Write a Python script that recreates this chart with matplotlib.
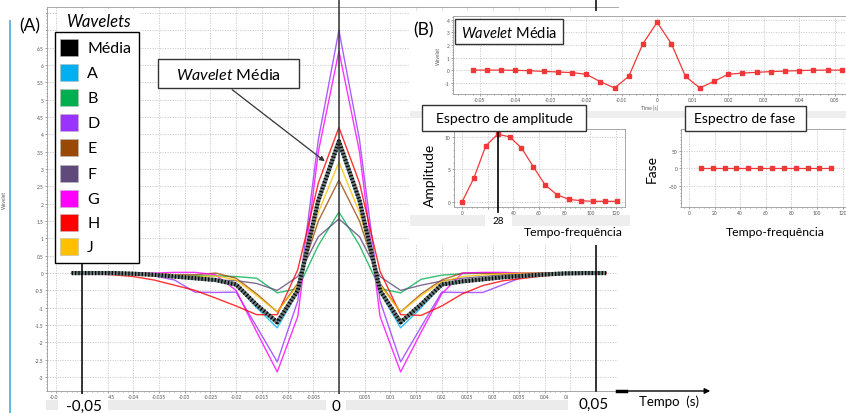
import matplotlib
matplotlib.use("Agg")
import matplotlib.pyplot as plt
from matplotlib.patches import Rectangle, FancyArrowPatch
from matplotlib.lines import Line2D
from matplotlib.ticker import MultipleLocator, FixedLocator, FuncFormatter

plt.rcParams['font.family'] = ['Lato', 'DejaVu Sans']
plt.rcParams['mathtext.fontset'] = 'custom'
plt.rcParams['mathtext.it'] = 'Lato:italic'
plt.rcParams['mathtext.rm'] = 'Lato'

# ---------------- data ----------------
time_s = [-0.052, -0.048, -0.044, -0.040, -0.036, -0.032, -0.028, -0.024, -0.020,
          -0.016, -0.012, -0.008, -0.004, 0.0, 0.004, 0.008, 0.012, 0.016, 0.020,
          0.024, 0.028, 0.032, 0.036, 0.040, 0.044, 0.048, 0.052]

media = [0, 0, 0, -0.02, -0.05, -0.10, -0.15, -0.20, -0.33, -0.92, -1.42, -0.50, 2.10,
         3.80, 2.10, -0.50, -1.42, -0.90, -0.33, -0.24, -0.18, -0.12, -0.08, -0.04, -0.01, 0, 0]
wav_a = [0, 0, 0, -0.02, -0.05, -0.10, -0.15, -0.22, -0.36, -1.00, -1.58, -0.55, 2.00,
         3.68, 2.00, -0.55, -1.58, -1.00, -0.36, -0.26, -0.18, -0.12, -0.08, -0.04, -0.01, 0, 0]
wav_b = [0, 0, 0, 0, -0.02, -0.05, -0.08, -0.08, -0.10, -0.15, -0.57, -0.45, 0.80,
         1.76, 0.80, -0.45, -0.57, -0.18, -0.06, -0.02, 0, 0, 0, 0, 0, 0, 0]
wav_d = [0, 0, 0, -0.02, -0.08, -0.20, -0.55, -0.56, -0.55, -1.55, -2.56, -0.80, 3.85,
         7.00, 3.85, -0.80, -2.56, -1.55, -0.55, -0.56, -0.56, -0.33, -0.10, -0.03, 0, 0, 0]
wav_e = [0, 0, 0, 0, -0.02, -0.05, -0.05, 0.00, -0.15, -0.60, -1.12, -0.30, 1.50,
         2.68, 1.50, -0.30, -1.12, -0.60, -0.20, 0.00, 0.00, -0.02, -0.02, 0, 0, 0, 0]
wav_f = [0, 0, 0, 0, -0.02, -0.05, -0.10, -0.20, -0.22, -0.30, -0.50, -0.10, 1.05,
         1.56, 1.05, -0.10, -0.50, -0.35, -0.23, -0.15, -0.10, -0.05, -0.02, 0, 0, 0, 0]
wav_g = [0, 0, 0, 0, 0, 0.02, 0.02, -0.05, -0.50, -1.70, -2.85, -1.25, 3.50,
         6.40, 3.50, -1.25, -2.85, -1.70, -0.60, 0.00, 0.02, 0.02, 0, 0, 0, 0, 0]
wav_h = [0, -0.02, -0.05, -0.10, -0.20, -0.35, -0.50, -0.72, -0.95, -1.20, -1.20, 0.10, 2.60,
         4.20, 2.60, 0.05, -1.20, -1.22, -0.95, -0.60, -0.36, -0.22, -0.15, -0.08, -0.03, 0, 0]
wav_j = [0, 0, 0, 0, -0.02, -0.05, -0.10, -0.08, -0.20, -0.65, -1.12, -0.35, 1.75,
         3.20, 1.75, -0.35, -1.12, -0.65, -0.25, -0.10, -0.05, -0.02, 0, 0, 0, 0, 0]

series_names = ["Média", "A", "B", "D", "E", "F", "G", "H", "J"]
series_colors = ["#000000", "#00B0F0", "#00B050", "#9933FF", "#984807",
                 "#604A7B", "#FF00FF", "#FF0000", "#FFC000"]
series_values = [media, wav_a, wav_b, wav_d, wav_e, wav_f, wav_g, wav_h, wav_j]

freq_hz = [0, 9.3, 18.5, 27.8, 37.0, 46.3, 55.6, 64.8, 74.1, 83.3, 92.6, 101.9, 111.1, 120.4]
amplitude = [0, 3.7, 8.6, 10.4, 10.0, 8.3, 5.4, 2.6, 1.1, 0.4, 0.2, 0.1, 0.1, 0.1]
phase_freq = [9.3, 18.5, 27.8, 37.0, 46.3, 55.6, 64.8, 74.1, 83.3, 92.6, 101.9, 111.1]
phase_deg = [0, 0, 0, 0, 0, 0, 0, 0, 0, 0, 0, 0]
peak_freq = 28

W, H = 846, 414
fig = plt.figure(figsize=(W / 100, H / 100), dpi=100)
fig.patch.set_facecolor("white")


def axes_px(l, t, r, b, z):
    a = fig.add_axes([l / W, 1 - b / H, (r - l) / W, (b - t) / H])
    a.set_zorder(z)
    return a


def rect_px(l, t, r, b, z, fc="white", ec="none", lw=1.0):
    fig.patches.append(Rectangle((l / W, 1 - b / H), (r - l) / W, (b - t) / H,
                                 transform=fig.transFigure, facecolor=fc,
                                 edgecolor=ec, linewidth=lw, zorder=z))


def text_px(x, y, s, z=10, **kw):
    kw.setdefault("ha", "center")
    kw.setdefault("va", "center")
    t = fig.text(x / W, 1 - y / H, s, **kw)
    t.set_zorder(z)
    return t


def line_px(x0, y0, x1, y1, z, color="black", lw=1.0):
    fig.lines.append(Line2D([x0 / W, x1 / W], [1 - y0 / H, 1 - y1 / H],
                            transform=fig.transFigure, color=color, lw=lw, zorder=z))


def style_small(a, fs=3.5):
    a.tick_params(which="both", labelsize=fs, colors="#555555", length=1.5, width=0.4, pad=1)
    a.tick_params(which="minor", length=1.0)
    for s in a.spines.values():
        s.set_color("#9a9a9a")
        s.set_linewidth(0.6)
    a.grid(True, which="major", color="#c8c8c8", lw=0.6, ls=(0, (1.5, 1.5)))
    a.set_axisbelow(True)


def main_xfmt(v, p):
    # the marks at -0.05, 0 and 0.05 s carry large labels of their own
    if min(abs(v + 0.05), abs(v), abs(v - 0.05)) < 1e-6:
        return ""
    return f"{v:.3f}".rstrip("0").rstrip(".")


# ---------------- main chart ----------------
ax = axes_px(47, 8, 618, 392, 0)
ax.set_xlim(-0.0568, 0.0543)
ax.set_ylim(-3.40, 7.67)
style_small(ax)
ax.spines["right"].set_visible(False)
ax.xaxis.set_major_locator(MultipleLocator(0.005))
ax.xaxis.set_minor_locator(MultipleLocator(0.001))
ax.yaxis.set_major_locator(MultipleLocator(0.5))
ax.yaxis.set_minor_locator(MultipleLocator(0.1))
ax.xaxis.set_major_formatter(FuncFormatter(main_xfmt))
ax.yaxis.set_major_formatter(FuncFormatter(lambda v, p: "" if v > 6.6 else (f"{v:g}" if abs(v) > 1e-9 else "0")))

for name, col, vals in list(zip(series_names, series_colors, series_values))[1:]:
    ax.plot(time_s, vals, color=col, lw=1.0, alpha=0.8, zorder=3)
# mean wavelet: grey band with black hatching
ax.plot(time_s, media, color="#6a7a7a", lw=3.0, zorder=4, solid_capstyle="butt")
ax.plot(time_s, media, color="black", lw=3.0, dashes=(0.3, 0.5), zorder=5)

# reference lines at -0.05, 0 and 0.05 s
ax.plot([-0.05, -0.05], [-3.75, 0.26], color="black", lw=1.1, clip_on=False, zorder=6)
ax.plot([0, 0], [-3.75, 7.9], color="#333333", lw=1.1, clip_on=False, zorder=6)
ax.plot([0.05, 0.05], [-3.40, 7.9], color="black", lw=1.1, clip_on=False, zorder=6)
ax.set_ylabel("Wavelet", fontsize=3.5, color="#555555", labelpad=20)

# left window edge and top-left cover
rect_px(0, 0, 46, 40, 1)
line_px(9.5, 22, 9.5, 414, 1.5, color="#5aaee0", lw=1.3)
text_px(30, 26, "(A)", z=12, fontsize=12.5)

# legend
rect_px(58, 11, 139, 33, 6)
text_px(99, 22, "Wavelets", z=12, fontsize=12, style="italic")
rect_px(55, 33, 139, 264, 6, fc="white", ec="black", lw=1.0)
row_y = [48, 73, 98, 123, 148, 174, 199, 223, 247]
for name, col, yy in zip(series_names, series_colors, row_y):
    rect_px(59.5, yy - 8.5, 78, yy + 8.5, 7, fc=col, ec="#bbbbbb", lw=0.4)
    text_px(87, yy + 1, name, z=12, fontsize=11.5, ha="left")

# label box with arrow on the mean wavelet
rect_px(158, 60, 299, 89, 6, fc="white", ec="#333333", lw=1.0)
text_px(228, 75, r"$\it{Wavelet}$ Média", z=12, fontsize=11.5)
fig.patches.append(FancyArrowPatch((230 / W, 1 - 89 / H), (327 / W, 1 - 164 / H),
                                   transform=fig.transFigure, arrowstyle="-|>",
                                   mutation_scale=7, color="#333333", lw=0.9, zorder=7))

# bottom strip with large time marks and the axis arrow
rect_px(46, 401, 620, 411, 1, fc="#ebebeb")
rect_px(58, 395, 108, 414, 2)
rect_px(326, 395, 346, 414, 2)
rect_px(568, 393, 620, 414, 2)
text_px(84, 407, "-0,05", z=12, fontsize=11)
text_px(336, 407, "0", z=12, fontsize=11)
text_px(594, 405, "0,05", z=12, fontsize=11)
line_px(617, 392, 626, 392, 8, lw=2.5)
fig.patches.append(FancyArrowPatch((622 / W, 1 - 392 / H), (713 / W, 1 - 392 / H),
                                   transform=fig.transFigure, arrowstyle="-|>",
                                   mutation_scale=8, color="black", lw=1.0, zorder=8))
text_px(669, 402, "Tempo  (s)", z=12, fontsize=9.5)

# ---------------- panel (B): mean wavelet ----------------
rect_px(410, 12, 846, 112, 2)
rect_px(410, 105, 632, 246, 2)
rect_px(630, 105, 846, 246, 2)
text_px(424, 30, "(B)", z=12, fontsize=12.5)

axb = axes_px(453, 17, 846, 95, 3)
axb.set_xlim(-0.0575, 0.0532)
axb.set_ylim(-1.9, 4.3)
style_small(axb)
axb.xaxis.set_major_locator(MultipleLocator(0.01))
axb.xaxis.set_minor_locator(MultipleLocator(0.002))
axb.yaxis.set_major_locator(MultipleLocator(1))
axb.yaxis.set_minor_locator(MultipleLocator(0.2))
axb.xaxis.set_major_formatter(FuncFormatter(lambda v, p: f"{v:.2f}" if abs(v) > 1e-9 else "0"))
axb.yaxis.set_major_formatter(FuncFormatter(lambda v, p: f"{v:g}" if abs(v) > 1e-9 else "0"))
axb.plot(time_s, media, color="#f03838", lw=0.9, marker="s", ms=2.2, zorder=4)
axb.set_xlabel("Time [s]", fontsize=3.5, color="#555555", labelpad=1.5)
axb.set_ylabel("Wavelet", fontsize=3.5, color="#555555", labelpad=3)
rect_px(455, 20, 563, 45, 6, fc="white", ec="#333333", lw=1.0)
text_px(509, 33, r"$\it{Wavelet}$ Média", z=12, fontsize=10.5)

# thin grey band under panel (B)
rect_px(410, 112, 846, 119, 2.5, fc="#eeeeee")

# ---------------- amplitude spectrum ----------------
axa = axes_px(454, 130, 625, 208, 3)
axa.set_xlim(-6.25, 127)
axa.set_ylim(-0.77, 11.2)
style_small(axa)
axa.xaxis.set_major_locator(MultipleLocator(20))
axa.xaxis.set_minor_locator(MultipleLocator(4))
axa.yaxis.set_major_locator(MultipleLocator(5))
axa.yaxis.set_minor_locator(MultipleLocator(1))
axa.xaxis.set_major_formatter(FuncFormatter(lambda v, p: "" if abs(v - 20) < 1e-6 else f"{v:g}"))
axa.plot(freq_hz, amplitude, color="#f03838", lw=0.9, marker="s", ms=2.2, zorder=4)
axa.plot([peak_freq, peak_freq], [-1.5, 11.2], color="black", lw=1.2, clip_on=False, zorder=5)
rect_px(410, 216, 630, 227, 2.5, fc="#eeeeee")
rect_px(485, 215, 512, 228, 2.6)
text_px(498, 221, f"{peak_freq}", z=12, fontsize=7)
text_px(430, 175, "Amplitude", z=12, fontsize=10, rotation=90)
text_px(573, 232, "Tempo-frequência", z=12, fontsize=8.8)
rect_px(422, 106, 586, 132, 6, fc="white", ec="#333333", lw=1.0)
text_px(504, 119, "Espectro de amplitude", z=12, fontsize=10)

# ---------------- phase spectrum ----------------
axp = axes_px(681, 130, 846, 208, 3)
axp.set_xlim(-6.25, 122.6)
axp.set_ylim(-111, 112)
style_small(axp)
axp.xaxis.set_major_locator(MultipleLocator(20))
axp.xaxis.set_minor_locator(MultipleLocator(4))
axp.yaxis.set_major_locator(FixedLocator([-50, 0, 50]))
axp.yaxis.set_minor_locator(MultipleLocator(10))
axp.plot(phase_freq, phase_deg, color="#f03838", lw=0.9, marker="s", ms=2.2, zorder=4)
text_px(652, 169, "Fase", z=12, fontsize=10, rotation=90)
text_px(775, 232, "Tempo-frequência", z=12, fontsize=8.8)
rect_px(685, 107, 806, 132, 6, fc="white", ec="#333333", lw=1.0)
text_px(745, 119, "Espectro de fase", z=12, fontsize=10)

fig.savefig("out.png", dpi=100, facecolor="white")
